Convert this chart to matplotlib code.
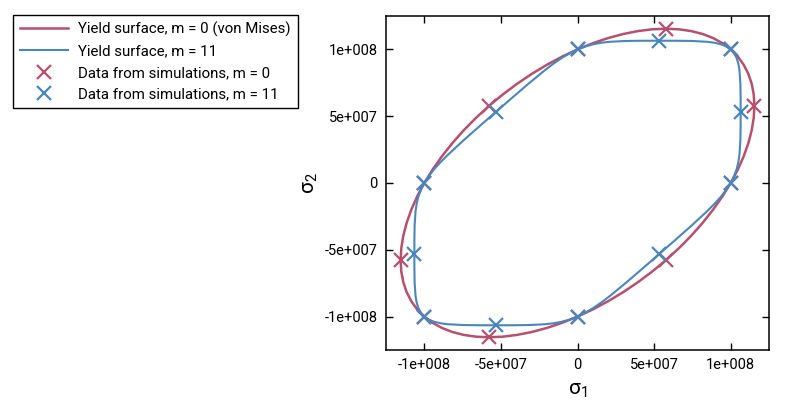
import matplotlib
matplotlib.use("Agg")
import matplotlib.pyplot as plt
import numpy as np

plt.rcParams['font.family'] = ['Roboto', 'DejaVu Sans']

SCALE = 1e8

# Yield surface m = 0 (von Mises), in units of 1e8
vm_s1 = [1.0000, 0.9459, 0.8846, 0.8165, 0.7422, 0.6623, 0.5774, 0.4880, 0.3949, 0.2989, 0.2005, 0.1006,
         0.0000, -0.1006, -0.2005, -0.2989, -0.3950, -0.4880, -0.5774, -0.6623, -0.7422, -0.8165, -0.8845, -0.9459,
         -1.0000, -1.0465, -1.0851, -1.1154, -1.1371, -1.1503, -1.1547, -1.1503, -1.1372, -1.1154, -1.0850, -1.0465,
         -1.0000, -0.9459, -0.8846, -0.8165, -0.7422, -0.6623, -0.5774, -0.4880, -0.3949, -0.2989, -0.2005, -0.1006,
         0.0000, 0.1006, 0.2005, 0.2989, 0.3950, 0.4880, 0.5774, 0.6623, 0.7422, 0.8165, 0.8845, 0.9459,
         1.0000, 1.0465, 1.0851, 1.1154, 1.1371, 1.1503, 1.1547, 1.1503, 1.1372, 1.1154, 1.0850, 1.0465, 1.0000]
vm_s2 = [1.0000, 1.0465, 1.0850, 1.1154, 1.1372, 1.1503, 1.1547, 1.1503, 1.1371, 1.1154, 1.0851, 1.0465,
         1.0000, 0.9459, 0.8845, 0.8165, 0.7422, 0.6623, 0.5774, 0.4880, 0.3950, 0.2989, 0.2005, 0.1006,
         0.0000, -0.1006, -0.2005, -0.2989, -0.3949, -0.4880, -0.5774, -0.6623, -0.7422, -0.8165, -0.8846, -0.9459,
         -1.0000, -1.0465, -1.0850, -1.1154, -1.1372, -1.1503, -1.1547, -1.1503, -1.1371, -1.1154, -1.0851, -1.0465,
         -1.0000, -0.9459, -0.8845, -0.8165, -0.7422, -0.6623, -0.5774, -0.4880, -0.3950, -0.2989, -0.2005, -0.1006,
         0.0000, 0.1006, 0.2005, 0.2989, 0.3949, 0.4880, 0.5774, 0.6623, 0.7422, 0.8165, 0.8846, 0.9459, 1.0000]

# Yield surface m = 11, in units of 1e8
h_s1 = [1.0000, 0.9894, 0.9712, 0.9350, 0.8927, 0.8457, 0.7442, 0.6388, 0.5325, 0.4259, 0.3190, 0.2114, 0.1575, 0.1039, 0.0511, 0.0202, 0.0000,
        -0.0202, -0.0511, -0.1039, -0.1575, -0.2114, -0.3190, -0.4259, -0.5325, -0.6388, -0.7442, -0.8457, -0.8927, -0.9350, -0.9712, -0.9894, -1.0000,
        -1.0096, -1.0223, -1.0389, -1.0502, -1.0571, -1.0632, -1.0647, -1.0649, -1.0647, -1.0632, -1.0571, -1.0502, -1.0389, -1.0223, -1.0096, -1.0000,
        -0.9894, -0.9712, -0.9350, -0.8927, -0.8457, -0.7442, -0.6388, -0.5325, -0.4259, -0.3190, -0.2114, -0.1575, -0.1039, -0.0511, -0.0202, 0.0000,
        0.0202, 0.0511, 0.1039, 0.1575, 0.2114, 0.3190, 0.4259, 0.5325, 0.6388, 0.7442, 0.8457, 0.8927, 0.9350, 0.9712, 0.9894, 1.0000,
        1.0096, 1.0223, 1.0389, 1.0502, 1.0571, 1.0632, 1.0647, 1.0649, 1.0647, 1.0632, 1.0571, 1.0502, 1.0389, 1.0223, 1.0096, 1.0000]
h_s2 = [1.0000, 1.0096, 1.0223, 1.0389, 1.0502, 1.0571, 1.0632, 1.0647, 1.0649, 1.0647, 1.0632, 1.0571, 1.0502, 1.0389, 1.0223, 1.0096, 1.0000,
        0.9894, 0.9712, 0.9350, 0.8927, 0.8457, 0.7442, 0.6388, 0.5324, 0.4259, 0.3190, 0.2114, 0.1575, 0.1039, 0.0511, 0.0202, 0.0000,
        -0.0202, -0.0511, -0.1039, -0.1575, -0.2114, -0.3190, -0.4259, -0.5325, -0.6388, -0.7442, -0.8457, -0.8927, -0.9350, -0.9712, -0.9894, -1.0000,
        -1.0096, -1.0223, -1.0389, -1.0502, -1.0571, -1.0632, -1.0647, -1.0649, -1.0647, -1.0632, -1.0571, -1.0502, -1.0389, -1.0223, -1.0096, -1.0000,
        -0.9894, -0.9712, -0.9350, -0.8927, -0.8457, -0.7442, -0.6388, -0.5324, -0.4259, -0.3190, -0.2114, -0.1575, -0.1039, -0.0511, -0.0202, 0.0000,
        0.0202, 0.0511, 0.1039, 0.1575, 0.2114, 0.3190, 0.4259, 0.5325, 0.6388, 0.7442, 0.8457, 0.8927, 0.9350, 0.9712, 0.9894, 1.0000]

# Simulation data points, in units of 1e8
sim0_s1 = [1.0, 0.5774, 0.0, -0.5774, -1.0, -1.1547, -1.0, -0.5774, 0.0, 0.5774, 1.0, 1.1547]
sim0_s2 = [1.0, 1.1547, 1.0, 0.5774, 0.0, -0.5774, -1.0, -1.1547, -1.0, -0.5774, 0.0, 0.5774]
sim11_s1 = [1.0, 0.5325, 0.0, -0.5325, -1.0, -1.0649, -1.0, -0.5325, 0.0, 0.5325, 1.0, 1.0649]
sim11_s2 = [1.0, 1.0649, 1.0, 0.5325, 0.0, -0.5325, -1.0, -1.0649, -1.0, -0.5325, 0.0, 0.5325]

x_ticks = [-1e8, -5e7, 0, 5e7, 1e8]
x_tick_labels = ['-1e+008', '-5e+007', '0', '5e+007', '1e+008']
y_ticks = [-1e8, -5e7, 0, 5e7, 1e8]
y_tick_labels = ['-1e+008', '-5e+007', '0', '5e+007', '1e+008']

RED = '#b5506d'
BLUE = '#4a86bb'

fig = plt.figure(figsize=(7.86, 4.03), dpi=100)
ax = fig.add_axes([386/786, 1-350/403, (769-386)/786, (350-16)/403])

l1, = ax.plot(np.array(vm_s1)*SCALE, np.array(vm_s2)*SCALE, color=RED, lw=1.8,
              label='Yield surface, m = 0 (von Mises)')
l2, = ax.plot(np.array(h_s1)*SCALE, np.array(h_s2)*SCALE, color=BLUE, lw=1.5,
              label='Yield surface, m = 11')
m1, = ax.plot(np.array(sim0_s1)*SCALE, np.array(sim0_s2)*SCALE, ls='none', marker='x',
              ms=10, mew=1.6, color=RED, label='Data from simulations, m = 0')
m2, = ax.plot(np.array(sim11_s1)*SCALE, np.array(sim11_s2)*SCALE, ls='none', marker='x',
              ms=10, mew=1.6, color=BLUE, label='Data from simulations, m = 11')

ax.set_xlim(-1.25e8, 1.25e8)
ax.set_ylim(-1.25e8, 1.25e8)
ax.set_xticks(x_ticks)
ax.set_xticklabels(x_tick_labels)
ax.set_yticks(y_ticks)
ax.set_yticklabels(y_tick_labels)
ax.tick_params(direction='in', length=5, width=1, top=True, right=True,
               labelsize=10.5, pad=6, color='black')
for s in ax.spines.values():
    s.set_linewidth(1.1)

ax.set_xlabel(r'$\mathregular{\sigma_1}$', fontsize=15, labelpad=6)
ax.set_ylabel(r'$\mathregular{\sigma_2}$', fontsize=15, labelpad=3)

leg = fig.legend(handles=[l1, l2, m1, m2], loc='upper left',
                 bbox_to_anchor=(13/786, 1-15/403), borderaxespad=0,
                 fancybox=False, framealpha=1, edgecolor='black', fontsize=10.8,
                 handlelength=3.2, handletextpad=0.7, labelspacing=0.5,
                 borderpad=0.45)
leg.get_frame().set_linewidth(1.0)

fig.savefig('out.png', dpi=100)
